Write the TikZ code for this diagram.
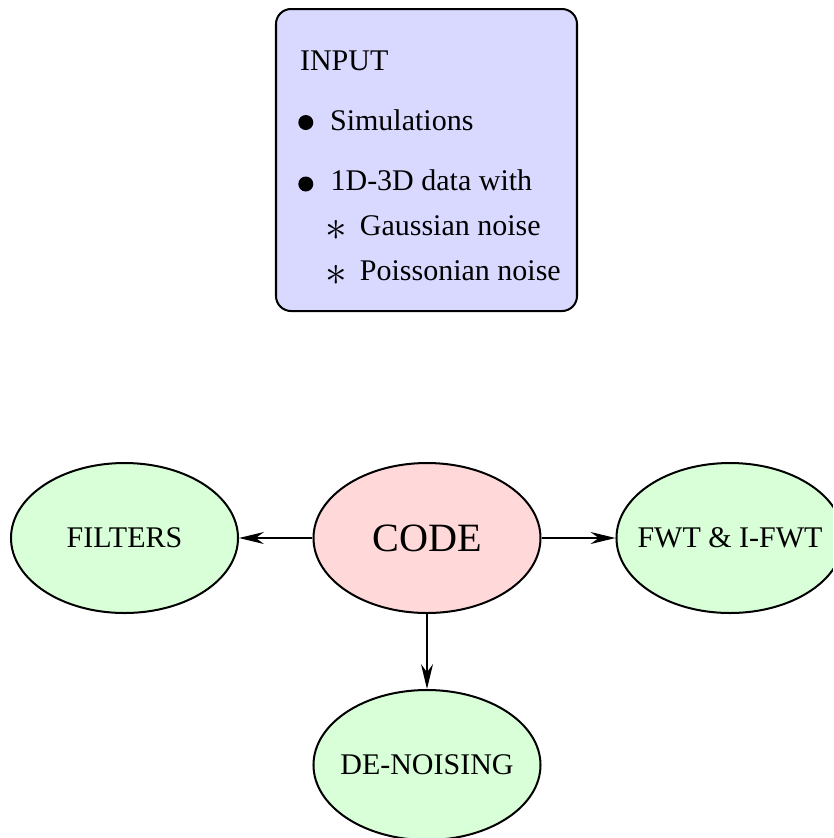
\documentclass[tikz,border=0pt]{standalone}
\usepackage{fontspec}
\setmainfont{Liberation Serif}
\usetikzlibrary{shapes.geometric,arrows.meta}
\begin{document}
\begin{tikzpicture}[x=0.33333pt,y=-0.33333pt,
  every node/.style={font=\fontsize{10}{12}\selectfont},
  blob/.style={ellipse,draw=black,line width=0.67pt,minimum width=75.67pt,minimum height=50pt,inner sep=0pt,fill=green!15},
  inbox/.style={draw=black,line width=0.67pt,rounded corners=5pt,fill=blue!15,minimum width=100.33pt,minimum height=100.67pt,inner sep=0pt},
  txt/.style={anchor=base west,inner sep=0pt},
  dot/.style={circle,fill=black,inner sep=0pt,minimum size=5pt},
  star/.style={inner sep=0pt,font=\fontsize{14}{14}\selectfont},
  conn/.style={draw=black,line width=0.45pt,-{Stealth[length=8.3pt,width=4pt]}}]
\clip (0,0) rectangle (833,838);
% input box
\node[inbox] (input) at (426.5,160) {};
\node[txt] (tin) at (299.5,70) {INPUT};
\node[dot] (b1) at (305.8,122.5) {};
\node[txt] (tsim) at (329.5,130) {Simulations};
\node[dot] (b2) at (305.8,184) {};
\node[txt] (tdat) at (330,190.7) {1D-3D data with};
\node[star] (a1) at (336.5,230.5) {$\ast$};
\node[txt] (tgau) at (359.3,235) {Gaussian noise};
\node[star] (a2) at (336.5,275.5) {$\ast$};
\node[txt] (tpoi) at (359.3,280) {Poissonian noise};
% ellipses
\node[blob,label=center:{FILTERS}] (filters) at (124.5,538) {};
\node[blob,fill=red!15,label={[font=\fontsize{13.4}{16}\selectfont]center:CODE}] (code) at (427,538) {};
\node[blob,label=center:{FWT \& I-FWT}] (fwt) at (730,538) {};
\node[blob,label=center:{DE-NOISING}] (denoise) at (427,765) {};
% connectors
\draw[conn] (code) -- (filters);
\draw[conn] (code) -- (fwt);
\draw[conn] (code) -- (denoise);
\end{tikzpicture}
\end{document}
